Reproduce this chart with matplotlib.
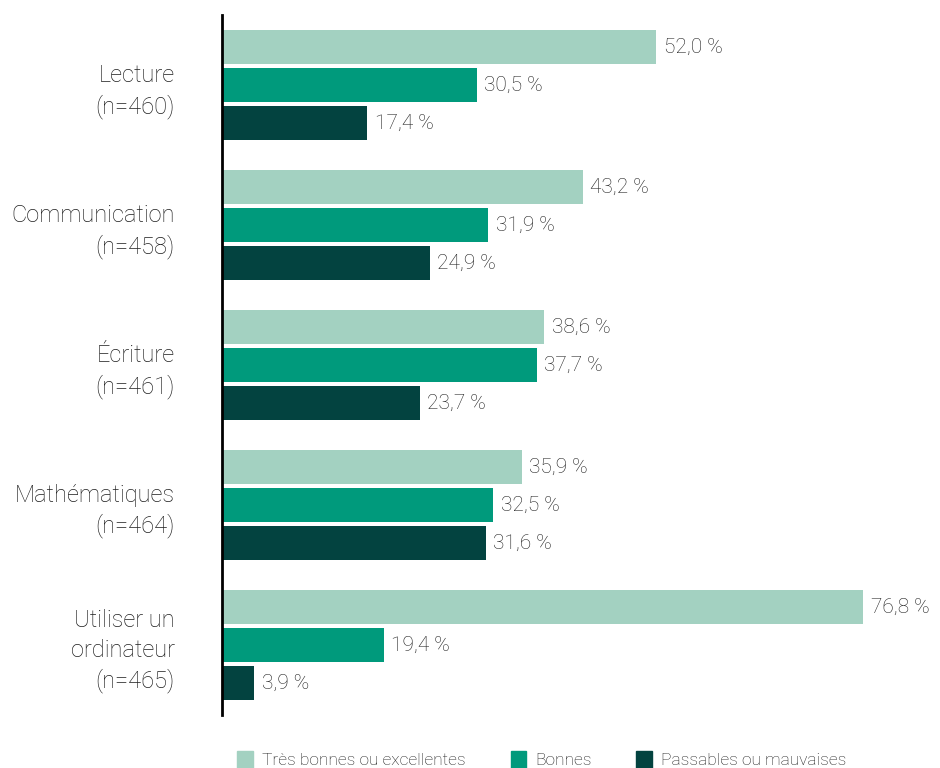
import numpy as np
import matplotlib
matplotlib.use("Agg")
import matplotlib.pyplot as plt
from matplotlib.patches import Patch

plt.rcParams['font.family'] = ['Roboto', 'DejaVu Sans']
plt.rcParams['font.weight'] = 'light'

categories = ["Lecture\n(n=460)", "Communication\n(n=458)", "Écriture\n(n=461)",
              "Mathématiques\n(n=464)", "Utiliser un\nordinateur\n(n=465)"]
series_names = ["Très bonnes ou excellentes", "Bonnes", "Passables ou mauvaises"]
tres_bonnes = [52.0, 43.2, 38.6, 35.9, 76.8]
bonnes = [30.5, 31.9, 37.7, 32.5, 19.4]
passables = [17.4, 24.9, 23.7, 31.6, 3.9]
colors = ["#a3d1c1", "#009a7c", "#034340"]
text_col = "#1e1e1e"

fig = plt.figure(figsize=(9.4, 7.68), dpi=100)
ax = fig.add_axes([0.236, 0.069, 0.764, 0.911])

y = np.arange(len(categories))
step = 0.271
h = 0.243
for i, (vals, col) in enumerate(zip([tres_bonnes, bonnes, passables], colors)):
    pos = y + (i - 1) * step
    ax.barh(pos, vals, height=h, color=col, label=series_names[i])
    for p, v in zip(pos, vals):
        ax.text(v + 0.9, p, f"{v:.1f}".replace(".", ",") + " %", va="center",
                ha="left", fontsize=15, color=text_col, fontweight="light")

ax.set_xlim(0, 86)
ax.set_ylim(len(categories) - 0.5, -0.5)
ax.set_yticks(y)
ax.set_yticklabels(categories, fontsize=17, color=text_col, linespacing=1.35,
                   fontweight="light")
ax.tick_params(axis="y", length=0, pad=34)
ax.set_xticks([])
for s in ["top", "right", "bottom"]:
    ax.spines[s].set_visible(False)
ax.spines["left"].set_linewidth(2)
ax.spines["left"].set_color("black")

handles = [Patch(color=c) for c in colors]
fig.legend(handles, series_names, loc="center left", bbox_to_anchor=(0.236, 0.011),
           ncol=3, frameon=False, handlelength=0.9, handleheight=1.1,
           handletextpad=0.5, columnspacing=2.6, labelcolor=text_col,
           prop={"weight": "light", "size": 12.5})

fig.savefig("out.png", dpi=100)
